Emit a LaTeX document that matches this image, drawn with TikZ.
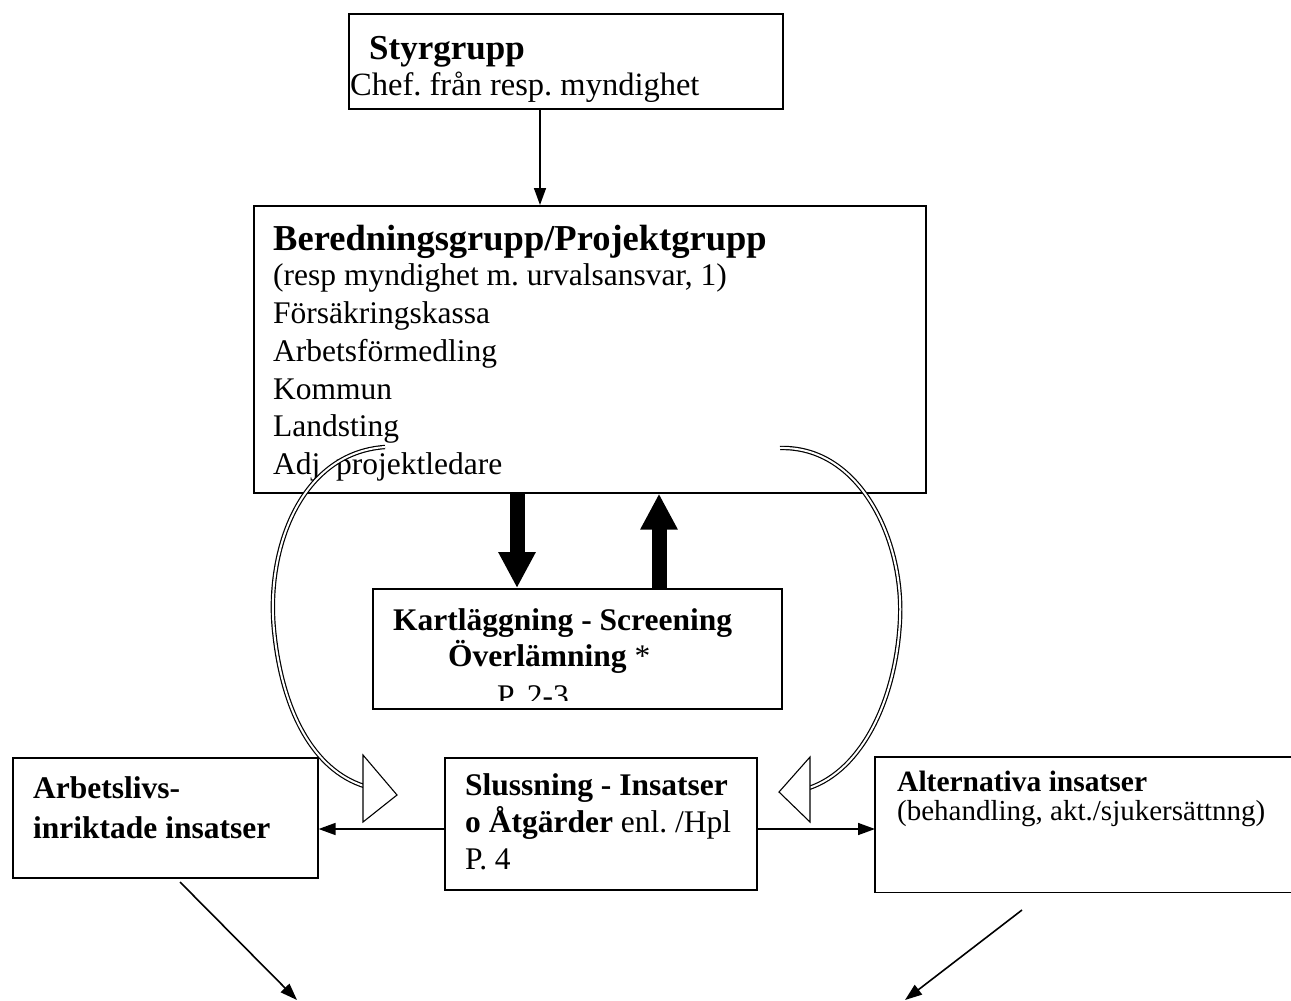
\documentclass[tikz,border=0pt]{standalone}
\usepackage{fontspec}
\setmainfont{Liberation Serif}
\usetikzlibrary{arrows.meta}
\newcommand{\fbody}{\fontsize{31.5}{36}\selectfont}
\newcommand{\fchef}{\fontsize{32.5}{36}\selectfont}
\newcommand{\ftitle}{\fontsize{36.5}{40}\selectfont\bfseries}
\newcommand{\fhead}{\fontsize{35}{38}\selectfont\bfseries}
\newcommand{\fsub}{\fontsize{31.5}{36}\selectfont\bfseries}
\newcommand{\fsmall}{\fontsize{29}{32}\selectfont}
\newcommand{\faltb}{\fontsize{29.5}{32}\selectfont\bfseries}
\begin{document}
\frenchspacing
\begin{tikzpicture}[x=1pt,y=-1pt,
  box/.style={draw, line width=1.6pt, rectangle, inner sep=0pt, anchor=north west},
  txt/.style={anchor=base west, inner sep=0pt},
  thin/.style={line width=1.6pt, -{Triangle[length=17pt,width=12pt]}},
  thick/.style={line width=15pt, -{Triangle[length=36pt 0 0,width=35pt 0 0]}},
  dbl/.style={draw=black, line width=1.2pt, double=white, double distance=2pt},
  hollow/.style={draw=black, fill=white, line width=1.1pt, line join=miter}]
\useasboundingbox (0,0) rectangle (1291,1001);
\fill[white] (0,0) rectangle (1291,1001);

% boxes
\node[box, minimum width=434pt, minimum height=95pt] (styr) at (348,13) {};
\node[box, minimum width=672pt, minimum height=287pt] (bered) at (253,205) {};
\node[box, minimum width=409pt, minimum height=120pt] (kart) at (372,588) {};
\node[box, minimum width=312pt, minimum height=132pt] (sluss) at (444,757) {};
\node[box, minimum width=305pt, minimum height=120pt] (arb) at (12,757) {};
\node[rectangle, inner sep=0pt, anchor=north west, minimum width=416pt, minimum height=135pt] (alt) at (875,757) {};
\draw[line width=1.6pt] (alt.north east) -- (alt.north west) -- (alt.south west) -- (alt.south east);

% texts
\node[txt, font=\fhead] (t-styr) at (369,59) {Styrgrupp};
\node[txt, font=\fchef] (t-chef) at (350,95) {Chef. från resp. myndighet};

\node[txt, font=\ftitle] (t-bered) at (273,250) {Beredningsgrupp/Projektgrupp};
\node[txt, font=\fbody] (t-b1) at (273,285) {(resp myndighet m. urvalsansvar, 1)};
\node[txt, font=\fbody] (t-b2) at (273,323) {Försäkringskassa};
\node[txt, font=\fbody] (t-b3) at (273,361) {Arbetsförmedling};
\node[txt, font=\fbody] (t-b4) at (273,399) {Kommun};
\node[txt, font=\fbody] (t-b5) at (273,436) {Landsting};
\node[txt, font=\fbody] (t-b6) at (273,474) {Adj. projektledare};

\node[txt, font=\fsub] (t-k1) at (393,630) {Kartläggning - Screening};
\node[txt, font=\fsub] (t-k2) at (448,666) {Överlämning \mdseries *};
\begin{scope}
  \clip (372,675) rectangle (780,700);
  \node[txt, font=\fbody] (t-k3) at (497,706) {P. 2-3};
\end{scope}

\node[txt, font=\fsub] (t-s1) at (465,795) {Slussning - Insatser};
\node[txt, font=\fsub] (t-s2) at (465,832) {o Åtgärder \mdseries enl. /Hpl};
\node[txt, font=\fbody] (t-s3) at (465,869) {P. 4};

\node[txt, font=\fsub] (t-a1) at (33,798) {Arbetslivs-};
\node[txt, font=\fsub] (t-a2) at (33,838) {inriktade insatser};

\node[txt, font=\faltb] (t-alt1) at (897,791) {Alternativa insatser};
\node[txt, font=\fsmall] (t-alt2) at (897,820) {(behandling, akt./sjukersättnng)};

% straight connectors
\coordinate (cx) at (540,0);
\draw[thin] (styr.south -| cx) -- (bered.north -| cx);

\coordinate (dnx) at (517,0);
\coordinate (upx) at (659,0);
\draw[thick] (bered.south -| dnx) -- (kart.north -| dnx);
\draw[thick] (kart.north -| upx) -- (bered.south -| upx);

\coordinate (hy) at (0,829);
\draw[thin] (sluss.west |- hy) -- (arb.east |- hy);
\draw[thin] (sluss.east |- hy) -- (alt.west |- hy);

\coordinate (d1s) at (180,882);
\coordinate (d1e) at (297,1000);
\coordinate (d2s) at (1022,910);
\coordinate (d2e) at (905,1000);
\draw[thin] (d1s) -- (d1e);
\draw[thin] (d2s) -- (d2e);

% curved hollow arrows
\coordinate (cl0) at (385,447);
\coordinate (cl1) at (274,630);
\coordinate (cl2) at (364,786);
\draw[dbl] (cl0) .. controls (300,453) and (266,550) .. (cl1) .. controls (282,712) and (314,770) .. (cl2);
\draw[hollow] (363,755) -- (397,795) -- (363,822) -- cycle;

\coordinate (cr0) at (780,448);
\coordinate (cr1) at (900,620);
\coordinate (cr2) at (809,788);
\draw[dbl] (cr0) .. controls (860,446) and (904,540) .. (cr1) .. controls (896,700) and (862,770) .. (cr2);
\draw[hollow] (810,757) -- (779,792) -- (810,822) -- cycle;
\end{tikzpicture}
\end{document}
